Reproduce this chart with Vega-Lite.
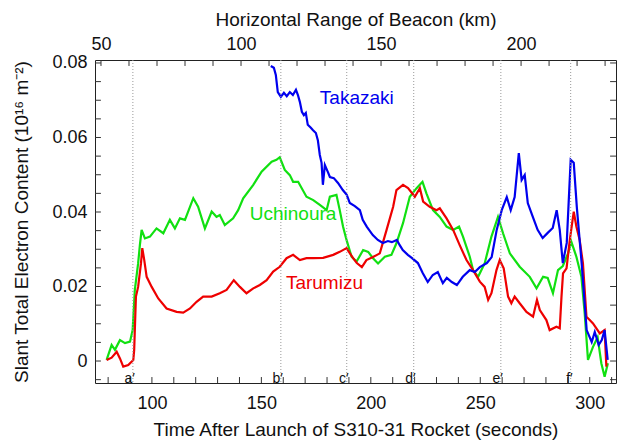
{
  "$schema": "https://vega.github.io/schema/vega-lite/v6.json",
  "width": 521,
  "height": 323,
  "autosize": {"type": "none"},
  "padding": {"left": 95, "top": 60, "right": 4, "bottom": 59},
  "background": "white",
  "config": {
    "view": {"stroke": "#222", "strokeWidth": 1},
    "font": "Liberation Sans",
    "axis": {"grid": false, "domain": false, "ticks": false, "tickSize": 0, "labelFont": "Liberation Sans", "titleFont": "Liberation Sans", "labelFontSize": 18, "titleFontSize": 19, "titleFontWeight": "normal", "labelColor": "#111", "titleColor": "#111"}
  },
  "datasets": {
    "curves": [
      {"s":"Uchinoura","t":79.3,"v":0.0003},{"s":"Uchinoura","t":81.6,"v":0.0043},{"s":"Uchinoura","t":83.1,"v":0.0030},{"s":"Uchinoura","t":85.4,"v":0.0056},{"s":"Uchinoura","t":87.7,"v":0.0048},{"s":"Uchinoura","t":90.0,"v":0.0052},{"s":"Uchinoura","t":91.2,"v":0.0083},{"s":"Uchinoura","t":92.2,"v":0.0191},{"s":"Uchinoura","t":93.7,"v":0.0262},{"s":"Uchinoura","t":94.5,"v":0.0311},{"s":"Uchinoura","t":95.3,"v":0.0352},{"s":"Uchinoura","t":96.8,"v":0.0329},{"s":"Uchinoura","t":99.1,"v":0.0334},{"s":"Uchinoura","t":102.1,"v":0.0356},{"s":"Uchinoura","t":105.2,"v":0.0343},{"s":"Uchinoura","t":108.2,"v":0.0379},{"s":"Uchinoura","t":110.5,"v":0.0356},{"s":"Uchinoura","t":112.8,"v":0.0383},{"s":"Uchinoura","t":115.1,"v":0.0379},{"s":"Uchinoura","t":118.9,"v":0.0437},{"s":"Uchinoura","t":121.1,"v":0.0414},{"s":"Uchinoura","t":124.2,"v":0.0356},{"s":"Uchinoura","t":127.3,"v":0.0401},{"s":"Uchinoura","t":129.5,"v":0.0387},{"s":"Uchinoura","t":131.0,"v":0.0392},{"s":"Uchinoura","t":133.3,"v":0.0365},{"s":"Uchinoura","t":137.1,"v":0.0383},{"s":"Uchinoura","t":139.4,"v":0.0405},{"s":"Uchinoura","t":141.7,"v":0.0437},{"s":"Uchinoura","t":146.3,"v":0.0473},{"s":"Uchinoura","t":150.1,"v":0.0508},{"s":"Uchinoura","t":154.7,"v":0.0535},{"s":"Uchinoura","t":156.9,"v":0.0540},{"s":"Uchinoura","t":158.4,"v":0.0547},{"s":"Uchinoura","t":160.7,"v":0.0513},{"s":"Uchinoura","t":163.0,"v":0.0499},{"s":"Uchinoura","t":164.5,"v":0.0481},{"s":"Uchinoura","t":166.8,"v":0.0481},{"s":"Uchinoura","t":170.6,"v":0.0441},{"s":"Uchinoura","t":173.7,"v":0.0432},{"s":"Uchinoura","t":176.7,"v":0.0419},{"s":"Uchinoura","t":179.8,"v":0.0405},{"s":"Uchinoura","t":181.3,"v":0.0441},{"s":"Uchinoura","t":184.3,"v":0.0446},{"s":"Uchinoura","t":185.8,"v":0.0405},{"s":"Uchinoura","t":187.3,"v":0.0361},{"s":"Uchinoura","t":188.9,"v":0.0325},{"s":"Uchinoura","t":191.2,"v":0.0280},{"s":"Uchinoura","t":193.5,"v":0.0267},{"s":"Uchinoura","t":196.5,"v":0.0298},{"s":"Uchinoura","t":198.8,"v":0.0293},{"s":"Uchinoura","t":201.0,"v":0.0276},{"s":"Uchinoura","t":203.3,"v":0.0262},{"s":"Uchinoura","t":206.4,"v":0.0280},{"s":"Uchinoura","t":209.4,"v":0.0285},{"s":"Uchinoura","t":211.7,"v":0.0316},{"s":"Uchinoura","t":214.7,"v":0.0370},{"s":"Uchinoura","t":217.8,"v":0.0441},{"s":"Uchinoura","t":220.9,"v":0.0464},{"s":"Uchinoura","t":223.6,"v":0.0481},{"s":"Uchinoura","t":225.4,"v":0.0450},{"s":"Uchinoura","t":228.4,"v":0.0405},{"s":"Uchinoura","t":231.5,"v":0.0387},{"s":"Uchinoura","t":234.6,"v":0.0361},{"s":"Uchinoura","t":237.6,"v":0.0352},{"s":"Uchinoura","t":240.3,"v":0.0361},{"s":"Uchinoura","t":242.1,"v":0.0334},{"s":"Uchinoura","t":245.2,"v":0.0280},{"s":"Uchinoura","t":246.7,"v":0.0244},{"s":"Uchinoura","t":249.0,"v":0.0226},{"s":"Uchinoura","t":252.0,"v":0.0262},{"s":"Uchinoura","t":255.1,"v":0.0334},{"s":"Uchinoura","t":258.1,"v":0.0387},{"s":"Uchinoura","t":260.4,"v":0.0343},{"s":"Uchinoura","t":263.5,"v":0.0289},{"s":"Uchinoura","t":268.0,"v":0.0253},{"s":"Uchinoura","t":272.6,"v":0.0226},{"s":"Uchinoura","t":275.7,"v":0.0195},{"s":"Uchinoura","t":278.7,"v":0.0226},{"s":"Uchinoura","t":280.8,"v":0.0223},{"s":"Uchinoura","t":283.2,"v":0.0182},{"s":"Uchinoura","t":285.5,"v":0.0244},{"s":"Uchinoura","t":287.7,"v":0.0255},{"s":"Uchinoura","t":290.1,"v":0.0289},{"s":"Uchinoura","t":291.6,"v":0.0320},{"s":"Uchinoura","t":293.9,"v":0.0280},{"s":"Uchinoura","t":296.2,"v":0.0226},{"s":"Uchinoura","t":297.7,"v":0.0128},{"s":"Uchinoura","t":299.2,"v":0.0003},{"s":"Uchinoura","t":301.5,"v":0.0038},{"s":"Uchinoura","t":303.6,"v":0.0064},{"s":"Uchinoura","t":305.3,"v":-0.0006},{"s":"Uchinoura","t":306.8,"v":-0.0042},{"s":"Uchinoura","t":308.3,"v":-0.0006},
      {"s":"Tarumizu","t":79.3,"v":0.0003},{"s":"Tarumizu","t":81.6,"v":0.0009},{"s":"Tarumizu","t":83.9,"v":0.0025},{"s":"Tarumizu","t":85.4,"v":0.0007},{"s":"Tarumizu","t":86.9,"v":-0.0015},{"s":"Tarumizu","t":89.2,"v":-0.0011},{"s":"Tarumizu","t":91.5,"v":0.0003},{"s":"Tarumizu","t":91.9,"v":0.0030},{"s":"Tarumizu","t":92.7,"v":0.0173},{"s":"Tarumizu","t":93.7,"v":0.0199},{"s":"Tarumizu","t":95.0,"v":0.0262},{"s":"Tarumizu","t":95.6,"v":0.0303},{"s":"Tarumizu","t":96.5,"v":0.0271},{"s":"Tarumizu","t":97.6,"v":0.0226},{"s":"Tarumizu","t":99.9,"v":0.0199},{"s":"Tarumizu","t":102.9,"v":0.0168},{"s":"Tarumizu","t":106.7,"v":0.0141},{"s":"Tarumizu","t":111.3,"v":0.0132},{"s":"Tarumizu","t":114.3,"v":0.0130},{"s":"Tarumizu","t":117.4,"v":0.0141},{"s":"Tarumizu","t":120.4,"v":0.0159},{"s":"Tarumizu","t":123.4,"v":0.0173},{"s":"Tarumizu","t":127.3,"v":0.0173},{"s":"Tarumizu","t":131.0,"v":0.0182},{"s":"Tarumizu","t":134.1,"v":0.0191},{"s":"Tarumizu","t":137.4,"v":0.0217},{"s":"Tarumizu","t":140.2,"v":0.0199},{"s":"Tarumizu","t":143.2,"v":0.0182},{"s":"Tarumizu","t":146.3,"v":0.0195},{"s":"Tarumizu","t":149.3,"v":0.0204},{"s":"Tarumizu","t":152.4,"v":0.0217},{"s":"Tarumizu","t":155.4,"v":0.0240},{"s":"Tarumizu","t":158.4,"v":0.0253},{"s":"Tarumizu","t":161.5,"v":0.0276},{"s":"Tarumizu","t":164.5,"v":0.0285},{"s":"Tarumizu","t":167.6,"v":0.0271},{"s":"Tarumizu","t":170.6,"v":0.0276},{"s":"Tarumizu","t":173.7,"v":0.0276},{"s":"Tarumizu","t":178.2,"v":0.0277},{"s":"Tarumizu","t":182.8,"v":0.0285},{"s":"Tarumizu","t":185.8,"v":0.0293},{"s":"Tarumizu","t":188.9,"v":0.0303},{"s":"Tarumizu","t":191.9,"v":0.0276},{"s":"Tarumizu","t":193.6,"v":0.0263},{"s":"Tarumizu","t":195.9,"v":0.0252},{"s":"Tarumizu","t":198.0,"v":0.0271},{"s":"Tarumizu","t":201.0,"v":0.0279},{"s":"Tarumizu","t":204.1,"v":0.0289},{"s":"Tarumizu","t":207.2,"v":0.0352},{"s":"Tarumizu","t":210.2,"v":0.0414},{"s":"Tarumizu","t":211.7,"v":0.0459},{"s":"Tarumizu","t":214.7,"v":0.0473},{"s":"Tarumizu","t":217.0,"v":0.0464},{"s":"Tarumizu","t":220.1,"v":0.0441},{"s":"Tarumizu","t":222.4,"v":0.0464},{"s":"Tarumizu","t":223.9,"v":0.0428},{"s":"Tarumizu","t":226.9,"v":0.0414},{"s":"Tarumizu","t":230.0,"v":0.0405},{"s":"Tarumizu","t":231.5,"v":0.0410},{"s":"Tarumizu","t":234.6,"v":0.0383},{"s":"Tarumizu","t":237.6,"v":0.0352},{"s":"Tarumizu","t":240.6,"v":0.0311},{"s":"Tarumizu","t":243.7,"v":0.0271},{"s":"Tarumizu","t":246.7,"v":0.0244},{"s":"Tarumizu","t":249.8,"v":0.0213},{"s":"Tarumizu","t":252.0,"v":0.0199},{"s":"Tarumizu","t":253.6,"v":0.0164},{"s":"Tarumizu","t":255.1,"v":0.0182},{"s":"Tarumizu","t":257.4,"v":0.0244},{"s":"Tarumizu","t":258.9,"v":0.0271},{"s":"Tarumizu","t":260.7,"v":0.0249},{"s":"Tarumizu","t":262.7,"v":0.0173},{"s":"Tarumizu","t":264.2,"v":0.0155},{"s":"Tarumizu","t":265.7,"v":0.0173},{"s":"Tarumizu","t":268.0,"v":0.0155},{"s":"Tarumizu","t":271.1,"v":0.0132},{"s":"Tarumizu","t":274.1,"v":0.0119},{"s":"Tarumizu","t":275.9,"v":0.0164},{"s":"Tarumizu","t":277.2,"v":0.0137},{"s":"Tarumizu","t":280.2,"v":0.0110},{"s":"Tarumizu","t":281.7,"v":0.0083},{"s":"Tarumizu","t":284.8,"v":0.0092},{"s":"Tarumizu","t":286.3,"v":0.0088},{"s":"Tarumizu","t":287.1,"v":0.0173},{"s":"Tarumizu","t":287.8,"v":0.0235},{"s":"Tarumizu","t":289.4,"v":0.0249},{"s":"Tarumizu","t":290.9,"v":0.0325},{"s":"Tarumizu","t":292.7,"v":0.0401},{"s":"Tarumizu","t":293.9,"v":0.0361},{"s":"Tarumizu","t":295.4,"v":0.0325},{"s":"Tarumizu","t":296.9,"v":0.0262},{"s":"Tarumizu","t":298.5,"v":0.0119},{"s":"Tarumizu","t":300.0,"v":0.0110},{"s":"Tarumizu","t":301.5,"v":0.0101},{"s":"Tarumizu","t":304.6,"v":0.0074},{"s":"Tarumizu","t":306.8,"v":0.0083},{"s":"Tarumizu","t":307.6,"v":-0.0015},
      {"s":"Takazaki","t":154.3,"v":0.0792},{"s":"Takazaki","t":155.7,"v":0.0787},{"s":"Takazaki","t":156.6,"v":0.0768},{"s":"Takazaki","t":157.5,"v":0.0722},{"s":"Takazaki","t":158.9,"v":0.0709},{"s":"Takazaki","t":160.3,"v":0.0720},{"s":"Takazaki","t":161.6,"v":0.0711},{"s":"Takazaki","t":163.0,"v":0.0722},{"s":"Takazaki","t":164.4,"v":0.0714},{"s":"Takazaki","t":165.8,"v":0.0728},{"s":"Takazaki","t":166.7,"v":0.0714},{"s":"Takazaki","t":167.6,"v":0.0695},{"s":"Takazaki","t":168.5,"v":0.0669},{"s":"Takazaki","t":169.4,"v":0.0660},{"s":"Takazaki","t":170.3,"v":0.0666},{"s":"Takazaki","t":171.2,"v":0.0634},{"s":"Takazaki","t":172.6,"v":0.0626},{"s":"Takazaki","t":173.5,"v":0.0620},{"s":"Takazaki","t":174.9,"v":0.0612},{"s":"Takazaki","t":175.8,"v":0.0593},{"s":"Takazaki","t":176.7,"v":0.0553},{"s":"Takazaki","t":177.5,"v":0.0532},{"s":"Takazaki","t":178.1,"v":0.0473},{"s":"Takazaki","t":179.0,"v":0.0526},{"s":"Takazaki","t":180.4,"v":0.0507},{"s":"Takazaki","t":181.3,"v":0.0494},{"s":"Takazaki","t":183.1,"v":0.0491},{"s":"Takazaki","t":185.0,"v":0.0478},{"s":"Takazaki","t":187.2,"v":0.0459},{"s":"Takazaki","t":189.0,"v":0.0446},{"s":"Takazaki","t":190.4,"v":0.0424},{"s":"Takazaki","t":192.7,"v":0.0416},{"s":"Takazaki","t":195.0,"v":0.0405},{"s":"Takazaki","t":196.3,"v":0.0379},{"s":"Takazaki","t":198.2,"v":0.0360},{"s":"Takazaki","t":200.9,"v":0.0338},{"s":"Takazaki","t":203.2,"v":0.0325},{"s":"Takazaki","t":205.5,"v":0.0317},{"s":"Takazaki","t":207.8,"v":0.0322},{"s":"Takazaki","t":209.6,"v":0.0319},{"s":"Takazaki","t":211.9,"v":0.0325},{"s":"Takazaki","t":213.2,"v":0.0311},{"s":"Takazaki","t":214.6,"v":0.0298},{"s":"Takazaki","t":216.9,"v":0.0285},{"s":"Takazaki","t":218.7,"v":0.0277},{"s":"Takazaki","t":221.5,"v":0.0263},{"s":"Takazaki","t":223.7,"v":0.0236},{"s":"Takazaki","t":226.0,"v":0.0212},{"s":"Takazaki","t":228.3,"v":0.0231},{"s":"Takazaki","t":230.6,"v":0.0239},{"s":"Takazaki","t":232.9,"v":0.0209},{"s":"Takazaki","t":234.7,"v":0.0223},{"s":"Takazaki","t":237.0,"v":0.0212},{"s":"Takazaki","t":239.3,"v":0.0204},{"s":"Takazaki","t":242.0,"v":0.0226},{"s":"Takazaki","t":245.2,"v":0.0244},{"s":"Takazaki","t":247.5,"v":0.0239},{"s":"Takazaki","t":249.8,"v":0.0252},{"s":"Takazaki","t":253.0,"v":0.0263},{"s":"Takazaki","t":255.2,"v":0.0279},{"s":"Takazaki","t":257.5,"v":0.0352},{"s":"Takazaki","t":259.8,"v":0.0405},{"s":"Takazaki","t":262.1,"v":0.0440},{"s":"Takazaki","t":263.9,"v":0.0405},{"s":"Takazaki","t":265.7,"v":0.0440},{"s":"Takazaki","t":267.6,"v":0.0558},{"s":"Takazaki","t":268.9,"v":0.0486},{"s":"Takazaki","t":270.3,"v":0.0499},{"s":"Takazaki","t":271.7,"v":0.0424},{"s":"Takazaki","t":274.0,"v":0.0387},{"s":"Takazaki","t":276.2,"v":0.0352},{"s":"Takazaki","t":278.5,"v":0.0330},{"s":"Takazaki","t":280.8,"v":0.0344},{"s":"Takazaki","t":283.1,"v":0.0357},{"s":"Takazaki","t":284.9,"v":0.0405},{"s":"Takazaki","t":286.3,"v":0.0352},{"s":"Takazaki","t":287.7,"v":0.0263},{"s":"Takazaki","t":289.5,"v":0.0317},{"s":"Takazaki","t":291.3,"v":0.0540},{"s":"Takazaki","t":292.7,"v":0.0532},{"s":"Takazaki","t":294.1,"v":0.0413},{"s":"Takazaki","t":296.3,"v":0.0263},{"s":"Takazaki","t":298.6,"v":0.0083},{"s":"Takazaki","t":300.9,"v":0.0051},{"s":"Takazaki","t":302.3,"v":0.0078},{"s":"Takazaki","t":304.1,"v":0.0043},{"s":"Takazaki","t":305.5,"v":0.0056},{"s":"Takazaki","t":306.8,"v":0.0083},{"s":"Takazaki","t":308.2,"v":0.0003}
    ],
    "markers": [
      {"t":91.3,"lab":"a′"},{"t":158.9,"lab":"b′"},{"t":189.0,"lab":"c′"},{"t":219.6,"lab":"d′"},{"t":259.4,"lab":"e′"},{"t":291.3,"lab":"f′"}
    ],
    "names": [
      {"s":"Takazaki","t":176.7,"v":0.0706},{"s":"Uchinoura","t":144.7,"v":0.0395},{"s":"Tarumizu","t":161.2,"v":0.0209}
    ],
    "range": [{"km":47.86,"v":0},{"km":233.9,"v":0}],
    "tticks": [{"t":80},{"t":90},{"t":100},{"t":110},{"t":120},{"t":130},{"t":140},{"t":150},{"t":160},{"t":170},{"t":180},{"t":190},{"t":200},{"t":210},{"t":220},{"t":230},{"t":240},{"t":250},{"t":260},{"t":270},{"t":280},{"t":290},{"t":300},{"t":310}],
    "kticks": [{"km":50},{"km":60},{"km":70},{"km":80},{"km":90},{"km":100},{"km":110},{"km":120},{"km":130},{"km":140},{"km":150},{"km":160},{"km":170},{"km":180},{"km":190},{"km":200},{"km":210},{"km":220},{"km":230}],
    "vticks": [{"v":-0.005},{"v":0},{"v":0.005},{"v":0.01},{"v":0.015},{"v":0.02},{"v":0.025},{"v":0.03},{"v":0.035},{"v":0.04},{"v":0.045},{"v":0.05},{"v":0.055},{"v":0.06},{"v":0.065},{"v":0.07},{"v":0.075},{"v":0.08}]
  },
  "layer": [
    {
      "data": {"name": "curves"},
      "mark": {"type": "line", "strokeWidth": 2.2, "interpolate": "linear"},
      "encoding": {
        "x": {"field": "t", "type": "quantitative", "scale": {"domain": [74, 312], "nice": false, "zero": false},
          "axis": {"orient": "bottom", "title": "Time After Launch of S310-31 Rocket (seconds)", "values": [100, 150, 200, 250, 300], "format": "d", "labelPadding": 11, "titlePadding": 8}},
        "y": {"field": "v", "type": "quantitative", "scale": {"domain": [-0.0059, 0.0808], "nice": false, "zero": false},
          "axis": {"orient": "left", "title": "Slant Total Electron Content (10¹⁶ m⁻²)", "values": [0, 0.02, 0.04, 0.06, 0.08], "labelExpr": "datum.value === 0 ? '0' : format(datum.value, '.2f')", "labelPadding": 8, "titlePadding": 20}},
        "color": {"field": "s", "type": "nominal", "scale": {"domain": ["Takazaki", "Uchinoura", "Tarumizu"], "range": ["#0000ee", "#11e011", "#ee0000"]}, "legend": null}
      }
    },
    {
      "data": {"name": "range"},
      "mark": {"type": "point", "opacity": 0},
      "encoding": {
        "x": {"field": "km", "type": "quantitative", "scale": {"domain": [47.86, 233.9], "nice": false, "zero": false},
          "axis": {"orient": "top", "title": "Horizontal Range of Beacon (km)", "values": [50, 100, 150, 200], "format": "d", "labelPadding": 7, "titlePadding": 6}},
        "y": {"field": "v", "type": "quantitative", "axis": null}
      }
    },
    {
      "data": {"name": "tticks"},
      "mark": {"type": "rule", "color": "#333", "strokeWidth": 1},
      "encoding": {
        "x": {"field": "t", "type": "quantitative", "scale": {"domain": [74, 312], "nice": false, "zero": false}, "axis": null},
        "y": {"datum": -0.0059, "type": "quantitative", "axis": null},
        "y2": {"datum": -0.0043}
      }
    },
    {
      "data": {"name": "kticks"},
      "mark": {"type": "rule", "color": "#333", "strokeWidth": 1},
      "encoding": {
        "x": {"field": "km", "type": "quantitative", "scale": {"domain": [47.86, 233.9], "nice": false, "zero": false}, "axis": null},
        "y": {"datum": 0.0808, "type": "quantitative", "axis": null},
        "y2": {"datum": 0.0792}
      }
    },
    {
      "data": {"name": "vticks"},
      "mark": {"type": "rule", "color": "#333", "strokeWidth": 1},
      "encoding": {
        "y": {"field": "v", "type": "quantitative", "axis": null},
        "x": {"datum": 74, "type": "quantitative", "scale": {"domain": [74, 312], "nice": false, "zero": false}, "axis": null},
        "x2": {"datum": 76.7}
      }
    },
    {
      "data": {"name": "vticks"},
      "mark": {"type": "rule", "color": "#333", "strokeWidth": 1},
      "encoding": {
        "y": {"field": "v", "type": "quantitative", "axis": null},
        "x": {"datum": 309.3, "type": "quantitative", "scale": {"domain": [74, 312], "nice": false, "zero": false}, "axis": null},
        "x2": {"datum": 312}
      }
    },
    {
      "data": {"name": "markers"},
      "mark": {"type": "rule", "color": "#999", "strokeWidth": 1, "strokeDash": [1, 2]},
      "encoding": {
        "x": {"field": "t", "type": "quantitative", "scale": {"domain": [74, 312], "nice": false, "zero": false}, "axis": null}
      }
    },
    {
      "data": {"name": "markers"},
      "mark": {"type": "text", "align": "right", "baseline": "middle", "dx": 2, "dy": 1, "fontSize": 14, "font": "Liberation Sans", "color": "#111"},
      "encoding": {
        "x": {"field": "t", "type": "quantitative", "scale": {"domain": [74, 312], "nice": false, "zero": false}, "axis": null},
        "y": {"datum": -0.0046, "type": "quantitative", "axis": null},
        "text": {"field": "lab"}
      }
    },
    {
      "data": {"name": "names"},
      "mark": {"type": "text", "align": "left", "baseline": "middle", "fontSize": 19, "font": "Liberation Sans"},
      "encoding": {
        "x": {"field": "t", "type": "quantitative", "scale": {"domain": [74, 312], "nice": false, "zero": false}, "axis": null},
        "y": {"field": "v", "type": "quantitative", "axis": null},
        "text": {"field": "s"},
        "color": {"field": "s", "type": "nominal", "legend": null}
      }
    }
  ],
  "resolve": {"scale": {"x": "independent"}, "axis": {"x": "independent", "y": "independent"}}
}
